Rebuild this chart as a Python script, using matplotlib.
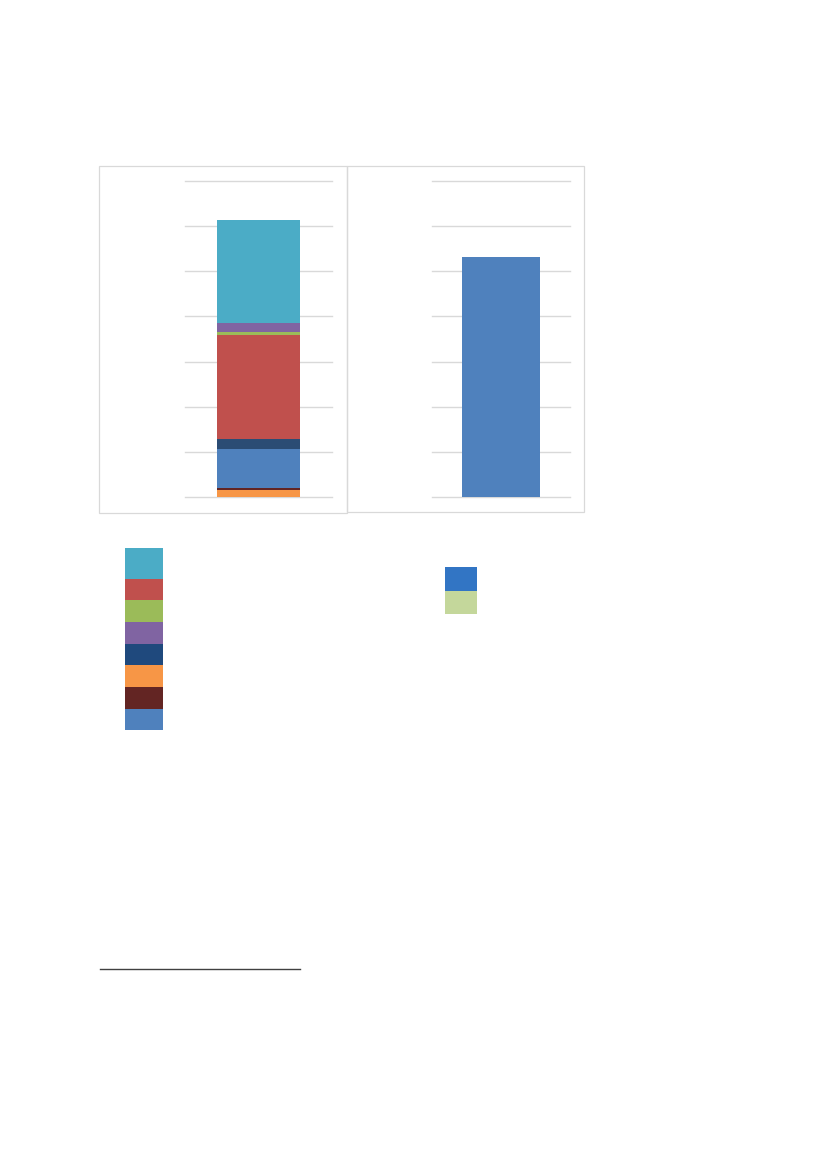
import matplotlib
matplotlib.use("Agg")
import matplotlib.pyplot as plt
from matplotlib.patches import Rectangle
from matplotlib.lines import Line2D

W, H = 827, 1169

# ---- data (grid step = 10 units) ----
left_categories = [""]
left_series = ["orange", "maroon", "blue", "navy", "red", "green", "purple", "teal"]
left_values = [1.55, 0.37, 8.8, 2.14, 23.1, 0.5, 2.1, 22.9]
left_colors = ["#F79646", "#632523", "#4F81BD", "#2B4C74", "#C0504D", "#9BBB59", "#8064A2", "#4BACC6"]

right_categories = [""]
right_values_main = [53.1]
right_values_extra = [0.15]
right_colors = ["#4F81BD", "#C4D79B"]

yticks = [0, 10, 20, 30, 40, 50, 60, 70]

legend_left_colors = ["#4BACC6", "#C0504D", "#9BBB59", "#8064A2", "#1F497D", "#F79646", "#632523", "#4F81BD"]
legend_right_colors = ["#3275C4", "#C4D79B"]

GRID = "#D9D9D9"


def fx(px):
    return px / W


def fy(py):
    return 1 - py / H


fig = plt.figure(figsize=(W / 100, H / 100), dpi=100)


def make_axes(x0, x1, y_top, y_bot):
    ax = fig.add_axes([fx(x0), fy(y_bot), (x1 - x0) / W, (y_bot - y_top) / H])
    ax.set_ylim(yticks[0], yticks[-1])
    ax.set_xlim(-0.5, 0.5)
    ax.set_yticks(yticks)
    ax.set_yticklabels([])
    ax.set_xticks([])
    ax.tick_params(length=0)
    for s in ax.spines.values():
        s.set_visible(False)
    ax.yaxis.grid(True, color=GRID, linewidth=1.0)
    ax.set_axisbelow(True)
    ax.patch.set_alpha(0)
    for gl in ax.get_ygridlines():
        gl.set_clip_on(False)
    return ax


# left chart
axL = make_axes(185, 332, 181, 497)
bottom = 0.0
for v, c in zip(left_values, left_colors):
    axL.bar(0, v, width=0.571, bottom=bottom, color=c, edgecolor="none")
    bottom += v

# right chart
axR = make_axes(432, 570, 181, 497)
axR.bar(0, right_values_main[0], width=0.565, color=right_colors[0], edgecolor="none")
axR.bar(0, right_values_extra[0], width=0.565, bottom=right_values_main[0], color=right_colors[1], edgecolor="none")

# chart frames
for (x0, y0, x1, y1) in [(99, 166, 347, 513), (347, 166, 584, 512)]:
    fig.add_artist(Rectangle((fx(x0), fy(y1)), (x1 - x0) / W, (y1 - y0) / H,
                             transform=fig.transFigure, fill=False,
                             edgecolor=GRID, linewidth=0.9))

# legend swatches (left)
left_legend_edges = [547.5, 579, 600, 622, 643.7, 665, 686.7, 708.7, 730]
for i, c in enumerate(legend_left_colors):
    y0, y1 = left_legend_edges[i], left_legend_edges[i + 1]
    fig.add_artist(Rectangle((fx(125), fy(y1)), 38 / W, (y1 - y0) / H,
                             transform=fig.transFigure, facecolor=c, edgecolor="none"))

# legend swatches (right)
right_legend_edges = [567, 591, 614]
for i, c in enumerate(legend_right_colors):
    y0, y1 = right_legend_edges[i], right_legend_edges[i + 1]
    fig.add_artist(Rectangle((fx(445), fy(y1)), 32 / W, (y1 - y0) / H,
                             transform=fig.transFigure, facecolor=c, edgecolor="none"))

# footnote separator
fig.add_artist(Line2D([fx(100), fx(300)], [fy(969), fy(969)],
                      transform=fig.transFigure, color="#404040", linewidth=1.0))

fig.savefig("out.png", dpi=100)
